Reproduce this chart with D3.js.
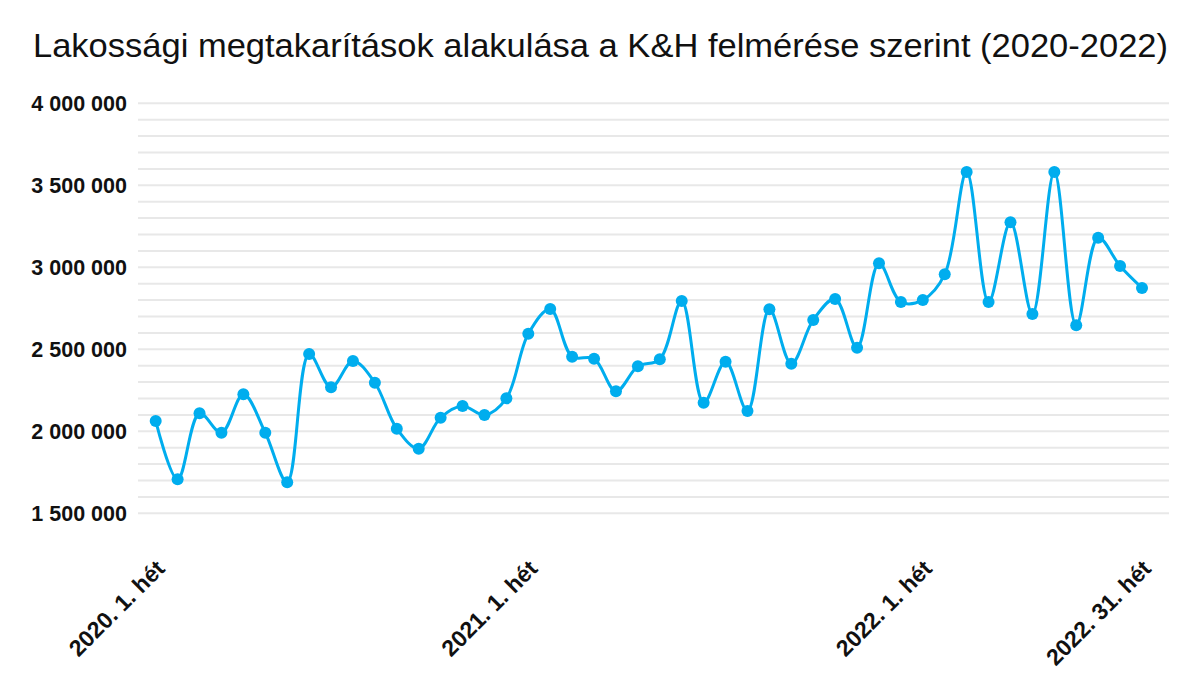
<!DOCTYPE html>
<html>
<head>
<meta charset="utf-8">
<script src="https://cdn.jsdelivr.net/npm/d3@7"></script>
<style>
  body { margin: 0; background: #fff; }
  text { font-family: "Liberation Sans", Arial, sans-serif; }
</style>
</head>
<body>
<div id="chart"></div>
<script>
// Values (one point per category, 46 in total)
const savings = [
  2063000, 1707000, 2110000, 1991000, 2226000, 1991000, 1689000, 2471000,
  2268000, 2429000, 2296000, 2016000, 1894000, 2083000, 2154000, 2099000,
  2201000, 2595000, 2746000, 2455000, 2443000, 2244000, 2396000, 2439000,
  2795000, 2174000, 2424000, 2124000, 2744000, 2412000, 2679000, 2807000,
  2510000, 3024000, 2788000, 2801000, 2957000, 3581000, 2788000, 3274000,
  2715000, 3581000, 2646000, 3180000, 3008000, 2874000,
];

// Only a few categories carry a visible label
const tickIndex = [0, 17, 35, 45];
const tickLabels = ["2020. 1. hét", "2021. 1. hét", "2022. 1. hét", "2022. 31. hét"];

const yTicks = [1500000, 2000000, 2500000, 3000000, 3500000, 4000000];

const title = "Lakossági megtakarítások alakulása a K&H felmérése szerint (2020-2022)";

const width = 1200;
const height = 675;
const lineColor = "#00adee";

const svg = d3
  .select("#chart")
  .append("svg")
  .attr("width", width)
  .attr("height", height);

const x = d3
  .scalePoint()
  .domain(d3.range(savings.length))
  .range([155.7, 1142]);

const y = d3.scaleLinear().domain([1500000, 4000000]).range([513.3, 103.3]);

const huFormat = d3.formatLocale({
  decimal: ",",
  thousands: " ",
  grouping: [3],
  currency: ["", " Ft"],
}).format(",d");

// title (slightly stretched to the reference width)
svg
  .append("text")
  .attr("x", 33)
  .attr("y", 57)
  .attr("font-size", 33)
  .attr("fill", "#111")
  .attr("textLength", 1135)
  .attr("lengthAdjust", "spacingAndGlyphs")
  .text(title);

// gridlines every 100 000
const gridTicks = d3.range(1500000, 4000001, 100000);
svg
  .append("g")
  .selectAll("line")
  .data(gridTicks)
  .enter()
  .append("line")
  .attr("x1", 138)
  .attr("x2", 1169)
  .attr("y1", (d) => y(d))
  .attr("y2", (d) => y(d))
  .attr("stroke", "#e8e8e8")
  .attr("stroke-width", 2);

// y axis labels
const yAxis = d3
  .axisLeft(y)
  .tickValues(yTicks)
  .tickFormat(huFormat)
  .tickSize(0)
  .tickPadding(0);

svg
  .append("g")
  .attr("transform", "translate(127,0)")
  .call(yAxis)
  .call((g) => g.select(".domain").remove())
  .selectAll("text")
  .attr("font-family", '"Liberation Sans", Arial, sans-serif')
  .attr("font-size", 21.5)
  .attr("font-weight", "bold")
  .attr("fill", "#111")
  .attr("dy", "0.35em");

// x axis labels, rotated
const xAxis = d3
  .axisBottom(x)
  .tickValues(tickIndex)
  .tickFormat((d) => tickLabels[tickIndex.indexOf(d)])
  .tickSize(0)
  .tickPadding(0);

svg
  .append("g")
  .attr("transform", "translate(0,570)")
  .call(xAxis)
  .call((g) => g.select(".domain").remove())
  .selectAll("text")
  .attr("font-family", '"Liberation Sans", Arial, sans-serif')
  .attr("font-size", 23)
  .attr("font-weight", "bold")
  .attr("fill", "#111")
  .attr("text-anchor", "end")
  .attr("dy", 0)
  .attr("y", 0)
  .attr("transform", "translate(10,0) rotate(-45)");

// smooth line
const line = d3
  .line()
  .x((d, i) => x(i))
  .y((d) => y(d))
  .curve(d3.curveCatmullRom.alpha(0.5));

svg
  .append("path")
  .datum(savings)
  .attr("d", line)
  .attr("fill", "none")
  .attr("stroke", lineColor)
  .attr("stroke-width", 3);

svg
  .append("g")
  .selectAll("circle")
  .data(savings)
  .enter()
  .append("circle")
  .attr("cx", (d, i) => x(i))
  .attr("cy", (d) => y(d))
  .attr("r", 6)
  .attr("fill", lineColor);
</script>
</body>
</html>
